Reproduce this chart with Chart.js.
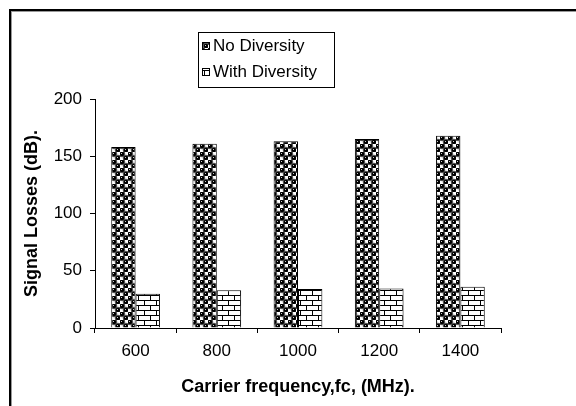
<!DOCTYPE html>
<html>
<head>
<meta charset="utf-8">
<script src="https://cdn.jsdelivr.net/npm/chart.js@4"></script>
<style>
  body { margin: 0; background: #fff; }
  canvas { display: block; }
</style>
</head>
<body>
<canvas id="myChart" width="576" height="406"></canvas>
<script>
// values
const frequencies = ['600', '800', '1000', '1200', '1400'];
const noDiversity = [158, 161, 163, 165, 168];
const withDiversity = [30, 33, 34, 34.5, 36];
const yTicks = [0, 50, 100, 150, 200];

// fill patterns for the two series
function ballPattern() {
    const c = document.createElement('canvas');
    c.width = 8; c.height = 8;
    const g = c.getContext('2d');
    g.fillStyle = '#fff';
    g.fillRect(0, 0, 8, 8);
    g.fillStyle = '#000';
    g.strokeStyle = '#555';
    g.lineWidth = 1;
    [[2, 2], [6, 6]].forEach(function (p) {
        g.beginPath();
        g.arc(p[0], p[1], 2.8, 0, Math.PI * 2);
        g.fill();
        g.stroke();
    });
    g.fillStyle = '#ccc';
    g.fillRect(1, 1, 1, 1);
    g.fillRect(5, 5, 1, 1);
    return g.createPattern(c, 'repeat');
}

function brickPattern() {
    const c = document.createElement('canvas');
    c.width = 12; c.height = 10;
    const g = c.getContext('2d');
    g.fillStyle = '#fff';
    g.fillRect(0, 0, 12, 10);
    g.fillStyle = '#000';
    g.fillRect(0, 0, 12, 1);
    g.fillRect(0, 5, 12, 1);
    g.fillRect(0, 0, 1, 5);
    g.fillRect(6, 5, 1, 5);
    return g.createPattern(c, 'repeat');
}

const balls = ballPattern();
const bricks = brickPattern();

// outer frame, only top and left edges show
const framePlugin = {
    id: 'frame',
    afterDraw(chart) {
        const c = chart.ctx;
        c.save();
        c.fillStyle = '#000';
        c.fillRect(9, 9, 567, 2);
        c.fillRect(9, 9, 2, 397);
        c.fillStyle = '#999';
        c.fillRect(11, 11, 565, 1);
        c.fillRect(11, 11, 1, 395);
        c.restore();
    }
};

// boxed legend above the plot, one entry per line
const boxLegend = {
    id: 'boxLegend',
    afterDraw(chart) {
        const c = chart.ctx;
        const sets = chart.data.datasets;
        c.save();
        c.fillStyle = '#fff';
        c.fillRect(198, 32, 136, 55);
        c.strokeStyle = '#000';
        c.lineWidth = 1;
        c.strokeRect(198.5, 32.5, 136, 55);
        c.font = '17px "Liberation Sans", Arial, sans-serif';
        c.textBaseline = 'middle';
        sets.forEach(function (ds, i) {
            const y = 46 + i * 26;
            c.fillStyle = ds.backgroundColor;
            c.fillRect(202, y - 4, 8, 8);
            c.strokeStyle = '#000';
            c.strokeRect(202.5, y - 3.5, 7, 7);
            c.fillStyle = '#000';
            c.fillText(ds.label, 213, y);
        });
        c.restore();
    }
};

const ctx = document.getElementById('myChart').getContext('2d');

const data = {
    labels: frequencies,
    datasets: [{
        label: 'No Diversity',
        data: noDiversity,
        backgroundColor: balls,
        borderColor: '#000',
        borderWidth: 1,
        barPercentage: 1,
        categoryPercentage: 0.6
    }, {
        label: 'With Diversity',
        data: withDiversity,
        backgroundColor: bricks,
        borderColor: '#000',
        borderWidth: 1,
        barPercentage: 1,
        categoryPercentage: 0.6
    }]
};

const config = {
    type: 'bar',
    data: data,
    plugins: [framePlugin, boxLegend],
    options: {
        responsive: false,
        animation: false,
        layout: {
            padding: { left: 0, top: 99, right: 75, bottom: 0 }
        },
        scales: {
            x: {
                afterFit: function (scale) { scale.height = 78; },
                border: { color: '#000', width: 1 },
                grid: {
                    drawOnChartArea: false,
                    color: '#000',
                    tickLength: 5
                },
                ticks: {
                    color: '#000',
                    padding: 8,
                    font: { size: 17 }
                },
                title: {
                    display: true,
                    text: 'Carrier frequency,fc, (MHz).',
                    color: '#000',
                    font: { size: 18, weight: 'bold' },
                    padding: { top: 8, bottom: 8 }
                }
            },
            y: {
                min: 0,
                max: 200,
                afterFit: function (scale) { scale.width = 95; },
                afterBuildTicks: function (scale) {
                    scale.ticks = yTicks.map(function (v) { return { value: v }; });
                },
                border: { color: '#000', width: 1 },
                grid: {
                    drawOnChartArea: false,
                    color: '#000',
                    tickLength: 5
                },
                ticks: {
                    color: '#000',
                    padding: 8,
                    font: { size: 17 }
                },
                title: {
                    display: true,
                    text: 'Signal Losses (dB).',
                    color: '#000',
                    font: { size: 18, weight: 'bold' },
                    padding: { top: 21, bottom: 21 }
                }
            }
        },
        plugins: {
            legend: { display: false },
            tooltip: { enabled: false }
        }
    }
};

Chart.defaults.font.family = '"Liberation Sans", Arial, sans-serif';

const myChart = new Chart(ctx, config);
</script>
</body>
</html>
